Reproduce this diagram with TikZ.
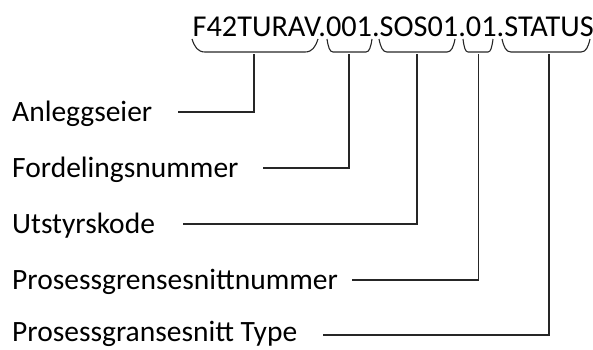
\documentclass[tikz,border=0pt]{standalone}
\usepackage{fontspec}
\setmainfont{Carlito}
\begin{document}
\begin{tikzpicture}[x=1pt,y=-1pt,
  lbl/.style={anchor=base west,inner sep=0pt,font=\fontsize{29.5}{32}\selectfont},
  codelbl/.style={anchor=base west,inner sep=0pt,font=\fontsize{30.3}{33}\selectfont},
  conn/.style={draw=black!85,line width=1.1pt},
  brc/.style={draw=black!85,line width=1.1pt}]
\useasboundingbox (0,0) rectangle (593,349);
% code string
\node[codelbl] (code) at (192.5,36) {F42TURAV.001.SOS01.01.STATUS};
% braces
\newcommand\mybrace[3]{% x1, x2, curve width
  \draw[brc] (#1,39) .. controls ({#1+0.2*#3},47) and ({#1+0.45*#3},52) .. ({#1+#3},52)
    -- ({#2-#3},52) .. controls ({#2-0.45*#3},52) and ({#2-0.2*#3},47) .. (#2,39);}
\mybrace{192}{318}{13}
\mybrace{327}{372}{6}
\mybrace{379}{455}{8}
\mybrace{463}{493}{5}
\mybrace{502}{590}{9}
% stem tops
\coordinate (t1) at (254,54);
\coordinate (t2) at (349,54);
\coordinate (t3) at (417,54);
\coordinate (t4) at (478.5,54);
\coordinate (t5) at (549,54);
% labels
\node[lbl] (l1) at (12,121) {Anleggseier};
\node[lbl] (l2) at (12,177) {Fordelingsnummer};
\node[lbl] (l3) at (12,233) {Utstyrskode};
\node[lbl] (l4) at (12,289) {Prosessgrensesnittnummer};
\node[lbl] (l5) at (12,341.5) {Prosessgransesnitt Type};
% line starts
\coordinate (s1) at (178,112);
\coordinate (s2) at (263,168);
\coordinate (s3) at (183,224);
\coordinate (s4) at (352,280);
\coordinate (s5) at (323,335);
\draw[conn] (s1) -| (t1);
\draw[conn] (s2) -| (t2);
\draw[conn] (s3) -| (t3);
\draw[conn] (s4) -| (t4);
\draw[conn] (s5) -| (t5);
\end{tikzpicture}
\end{document}
